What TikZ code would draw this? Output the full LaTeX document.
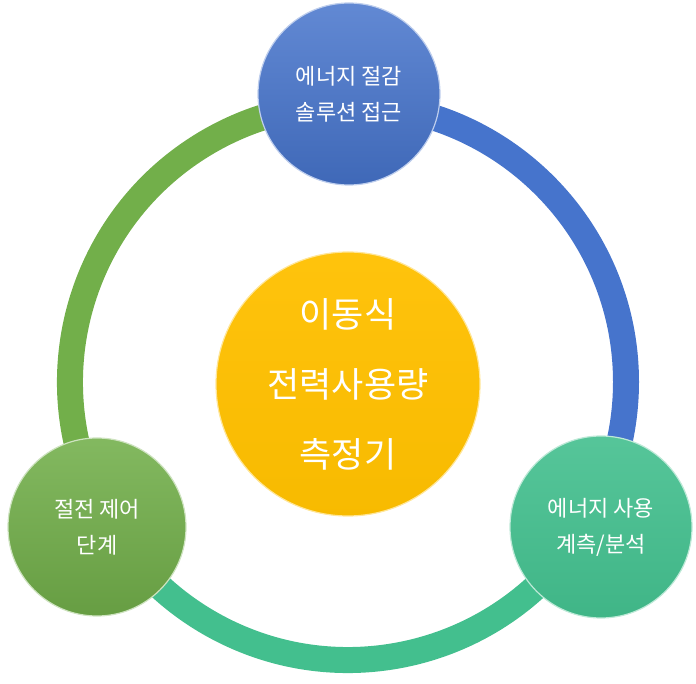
\documentclass[tikz,border=0pt]{standalone}
\usepackage{fontspec}
\setmainfont{Noto Sans CJK KR}
\definecolor{solblue}{HTML}{4674CC}
\definecolor{meterteal}{HTML}{43BF8E}
\definecolor{ctrlgreen}{HTML}{72AF4A}
\definecolor{coregold}{HTML}{FFC000}
\tikzset{
  ring/.style={line width=26pt},
  bubble/.style={circle, inner sep=0pt, align=center, text=white,
    font=\fontsize{22}{36}\selectfont, minimum size=182pt, line width=1.2pt},
}
\begin{document}
\begin{tikzpicture}[x=1pt,y=1pt]
    \useasboundingbox (0,0) rectangle (696,683);
    \coordinate (hub) at (348,301);

    % cycle ring
    \draw[ring, solblue] (hub) ++(90:278pt) arc[start angle=90, end angle=-30, radius=278pt];
    \draw[ring, meterteal] (hub) ++(-30:278pt) arc[start angle=-30, end angle=-150, radius=278pt];
    \draw[ring, ctrlgreen] (hub) ++(210:278pt) arc[start angle=210, end angle=90, radius=278pt];

    % stage circles
    \node[bubble, top color=solblue!85!white, bottom color=solblue!90!black,
          draw=solblue!35!white] (saving) at (349,589) {에너지 절감\\솔루션 접근};
    \node[bubble, top color=meterteal!90!white, bottom color=meterteal!95!black,
          draw=meterteal!35!white] (usage) at (601,156) {에너지 사용\\계측/분석};
    \node[bubble, minimum size=178pt, top color=ctrlgreen!88!white, bottom color=ctrlgreen!90!black,
          draw=ctrlgreen!35!white] (control) at (97,156) {절전 제어\\단계};

    % meter in the middle
    \node[bubble, minimum size=264pt, font=\fontsize{35}{70}\selectfont,
          top color=coregold!95!white, bottom color=coregold!97!black,
          draw=coregold!40!white] (meter) at (348,299) {이동식\\전력사용량\\측정기};
\end{tikzpicture}
\end{document}
